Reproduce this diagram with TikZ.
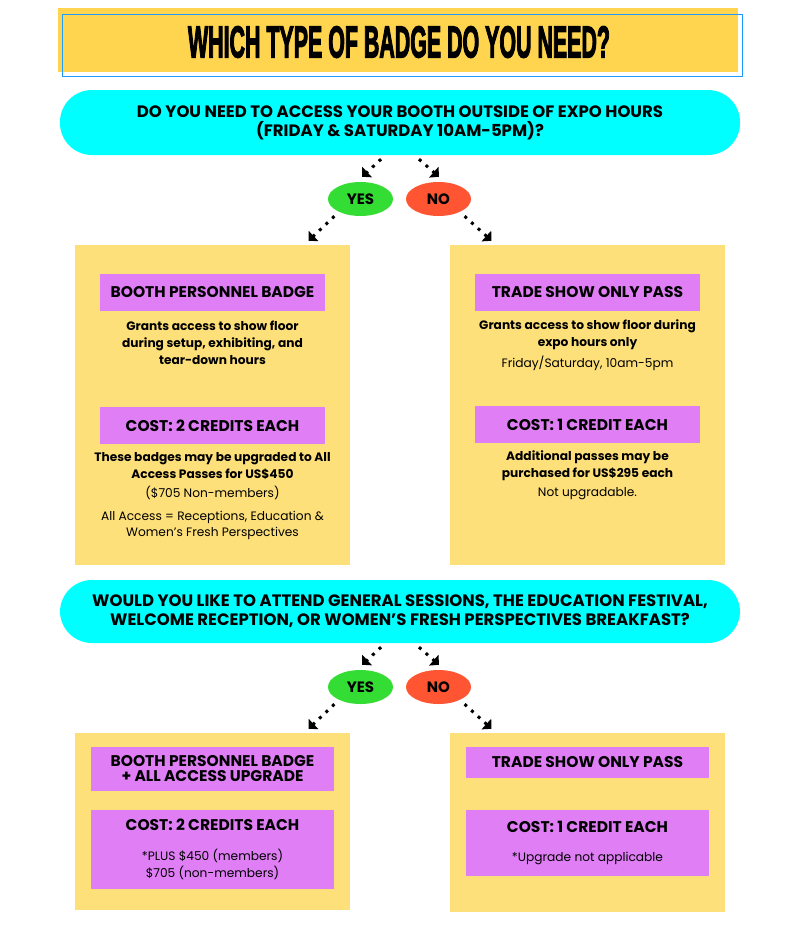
\documentclass[tikz,border=0pt]{standalone}
\usepackage{fontspec}
\setmainfont{Poppins}
\newfontfamily\titlefont[FakeBold=3.5]{Liberation Sans}
\usepackage{graphicx}
\usetikzlibrary{positioning,arrows.meta,shapes.geometric}
\usepackage{xcolor}
\definecolor{TitleYellow}{HTML}{FFD54F}
\definecolor{PanelYellow}{HTML}{FEE07A}
\definecolor{TagPurple}{HTML}{E07EF6}
\definecolor{PillCyan}{HTML}{00FFFF}
\definecolor{YesGreen}{HTML}{33DD33}
\definecolor{NoRed}{HTML}{FF5533}
\definecolor{FrameBlue}{HTML}{1E9BFF}

\begin{document}
\begin{tikzpicture}[x=1pt,y=-1pt,
pill/.style={rectangle,rounded corners=32pt,fill=PillCyan,minimum width=680pt,
align=center,font=\fontsize{16.5}{19}\selectfont\bfseries},
answer/.style={ellipse,minimum width=65pt,minimum height=34pt,inner sep=0pt,
font=\fontsize{15}{15}\selectfont\bfseries},
panel/.style={rectangle,fill=PanelYellow,minimum width=275pt,inner sep=0pt},
tag/.style={rectangle,fill=TagPurple,inner sep=0pt,align=center,
font=\fontsize{15.5}{15}\selectfont\bfseries},
boldtext/.style={align=center,font=\fontsize{12.2}{17}\selectfont\bfseries},
plaintext/.style={align=center,font=\fontsize{12.2}{16}\selectfont},
arrow/.style={line width=3pt,dash pattern=on 3pt off 6pt,
-{Triangle[length=7pt,width=14pt]}}
]
\useasboundingbox (0,0) rectangle (800,932);
% title
\node[rectangle,fill=TitleYellow,minimum width=680pt,minimum height=64pt] (titlebar) at (398,40) {};
\node[rectangle,draw=FrameBlue,thin,minimum width=680pt,minimum height=62pt] (titleframe) at (402,45) {};
\node (title) at (399,42) {\resizebox{422pt}{31pt}{\titlefont\bfseries WHICH TYPE OF BADGE DO YOU NEED?}};

% first question
\node[pill,minimum height=65pt] (q1) at (400,122.5) {DO YOU NEED TO ACCESS YOUR BOOTH OUTSIDE OF EXPO HOURS\\(FRIDAY \& SATURDAY 10AM-5PM)?};
\node[answer,fill=YesGreen] (yes1) at (360.5,199) {YES};
\node[answer,fill=NoRed] (no1) at (438.5,199) {NO};

\node[panel,minimum height=320pt] (boothpanel) at (212.5,405) {};
\node[panel,minimum height=320pt] (tradepanel) at (587.5,405) {};

\node[tag,minimum width=225pt,minimum height=37pt] (boothtag) at (212.5,292.5) {BOOTH PERSONNEL BADGE};
\node[boldtext] (boothdesc) at (212.5,343) {Grants access to show floor\\during setup, exhibiting, and\\tear-down hours};
\node[tag,minimum width=225pt,minimum height=37pt] (boothcost) at (212.5,425.5) {COST: 2 CREDITS EACH};
\node[boldtext] (boothup) at (212.5,466.5) {These badges may be upgraded to All\\Access Passes for US\$450};
\node[plaintext] (boothnm) at (212.5,493) {(\$705 Non-members)};
\node[plaintext] (boothall) at (212.5,525) {All Access = Receptions, Education \&\\Women’s Fresh Perspectives};

\node[tag,minimum width=225pt,minimum height=37pt] (tradetag) at (587.5,292.5) {TRADE SHOW ONLY PASS};
\node[boldtext] (tradedesc) at (587.5,334.5) {Grants access to show floor during\\expo hours only};
\node[plaintext] (tradedays) at (587.5,363) {Friday/Saturday, 10am-5pm};
\node[tag,minimum width=225pt,minimum height=37pt] (tradecost) at (587.5,424.5) {COST: 1 CREDIT EACH};
\node[boldtext] (tradeadd) at (587.5,465.5) {Additional passes may be\\purchased for US\$295 each};
\node[plaintext] (tradenot) at (587.5,494) {Not upgradable.};

\draw[arrow] ([shift={(-19,4)}]q1.south) -- ([shift={(1.5,-5)}]yes1.north);
\draw[arrow] ([shift={(19,4)}]q1.south) -- ([shift={(0.5,-5)}]no1.north);
\draw[arrow] ([shift={(-3,5)}]yes1.south west) -- ([shift={(96,-4)}]boothpanel.north);
\draw[arrow] ([shift={(3,5)}]no1.south east) -- ([shift={(-96,-4)}]tradepanel.north);

% second question
\node[pill,minimum height=63pt] (q2) at (400,611.5) {WOULD YOU LIKE TO ATTEND GENERAL SESSIONS, THE EDUCATION FESTIVAL,\\WELCOME RECEPTION, OR WOMEN’S FRESH PERSPECTIVES BREAKFAST?};
\node[answer,fill=YesGreen] (yes2) at (360.5,687) {YES};
\node[answer,fill=NoRed] (no2) at (438.5,687) {NO};

\node[panel,minimum height=177pt] (allpanel) at (212.5,821.5) {};
\node[panel,minimum height=179pt] (onlypanel) at (587.5,822.5) {};

\node[tag,minimum width=243pt,minimum height=44pt] (alltag) at (212.5,769) {BOOTH PERSONNEL BADGE\\+ ALL ACCESS UPGRADE};
\node[tag,minimum width=243pt,minimum height=79pt,font=\fontsize{15.5}{17}\selectfont\bfseries] (allcost) at (212.5,849.5) {COST: 2 CREDITS EACH\\[13pt]{\fontsize{12.2}{17}\selectfont\mdseries *PLUS \$450 (members)}\\{\fontsize{12.2}{17}\selectfont\mdseries \$705 (non-members)}};
\node[tag,minimum width=243pt,minimum height=31pt] (onlytag) at (587.5,762.5) {TRADE SHOW ONLY PASS};
\node[tag,minimum width=243pt,minimum height=66pt,font=\fontsize{15.5}{17}\selectfont\bfseries] (onlycost) at (587.5,843) {COST: 1 CREDIT EACH\\[12pt]{\fontsize{12.2}{17}\selectfont\mdseries *Upgrade not applicable}};

\draw[arrow] ([shift={(-19,4)}]q2.south) -- ([shift={(1.5,-5)}]yes2.north);
\draw[arrow] ([shift={(19,4)}]q2.south) -- ([shift={(0.5,-5)}]no2.north);
\draw[arrow] ([shift={(-3,5)}]yes2.south west) -- ([shift={(96,-4)}]allpanel.north);
\draw[arrow] ([shift={(3,5)}]no2.south east) -- ([shift={(-96,-4)}]onlypanel.north);
\end{tikzpicture}
\end{document}
